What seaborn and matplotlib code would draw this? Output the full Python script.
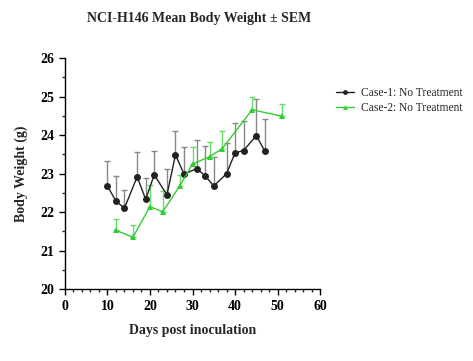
import numpy as np
import pandas as pd
import matplotlib
matplotlib.use('Agg')
import matplotlib.pyplot as plt
import seaborn as sns

# dados
dias_c1 = [10, 12, 14, 17, 19, 21, 24, 26, 28, 31, 33, 35, 38, 40, 42, 45, 47]
peso_c1 = [22.68, 22.29, 22.10, 22.92, 22.33, 22.97, 22.45, 23.49, 22.99, 23.13,
           22.94, 22.68, 23.00, 23.54, 23.60, 23.99, 23.58]
sem_c1 = [0.64, 0.65, 0.47, 0.63, 0.55, 0.62, 0.66, 0.62, 0.69, 0.74,
          0.79, 0.74, 0.79, 0.78, 0.78, 0.95, 0.84]

dias_c2 = [12, 16, 20, 23, 27, 30, 34, 37, 44, 51]
peso_c2 = [21.53, 21.35, 22.14, 22.01, 22.68, 23.25, 23.44, 23.65, 24.66, 24.49]
sem_c2 = [0.29, 0.31, 0.57, 0.54, 0.29, 0.45, 0.38, 0.45, 0.34, 0.31]

nomes = ['Case-1: No Treatment', 'Case-2: No Treatment']
cores = ['#222222', '#33cc33']

df = pd.concat([
    pd.DataFrame({'dia': dias_c1, 'peso': peso_c1, 'grupo': nomes[0]}),
    pd.DataFrame({'dia': dias_c2, 'peso': peso_c2, 'grupo': nomes[1]}),
])

sns.set_style('ticks')
plt.rcParams['font.family'] = ['Liberation Serif', 'DejaVu Serif']

fig = plt.figure(figsize=(4.73, 3.61), dpi=100)
ax = fig.add_axes([0.137, 0.199, 0.54, 0.64])

# barras de erro so para cima
ax.errorbar(dias_c1, peso_c1, yerr=[np.zeros(len(sem_c1)), sem_c1], fmt='none',
            ecolor='#888888', elinewidth=1.0, capsize=2, capthick=1, zorder=1)
ax.errorbar(dias_c2, peso_c2, yerr=[np.zeros(len(sem_c2)), sem_c2], fmt='none',
            ecolor='#66dd66', elinewidth=1.0, capsize=2, capthick=1, zorder=1)

sns.lineplot(data=df, x='dia', y='peso', hue='grupo', style='grupo',
             palette=dict(zip(nomes, cores)), markers=['o', '^'], dashes=False,
             markersize=5, markeredgewidth=0, linewidth=1, ax=ax, zorder=2)

ax.set_xlim(0, 60)
ax.set_ylim(20, 26)
ax.set_xticks(range(0, 61, 10))
ax.set_xticks(range(0, 61, 2), minor=True)
ax.set_yticks(range(20, 27))
ax.set_yticks(np.arange(20, 26.01, 0.5), minor=True)
ax.tick_params(axis='both', which='major', length=4, width=1, labelsize=10, colors='black')
ax.tick_params(axis='both', which='minor', length=2, width=1)
for lbl in ax.get_xticklabels() + ax.get_yticklabels():
    lbl.set_fontweight('bold')
for s in ['left', 'bottom']:
    ax.spines[s].set_linewidth(1)
    ax.spines[s].set_color('black')
sns.despine(ax=ax)

ax.set_xlabel('Days post inoculation', fontsize=10, fontweight='bold', labelpad=8)
ax.set_ylabel('Body Weight (g)', fontsize=10, fontweight='bold', labelpad=9)

fig.text(0.42, 0.948, 'NCI-H146 Mean Body Weight ± SEM', ha='center', va='center',
         fontsize=10, fontweight='bold')

leg = ax.legend(title=None, loc='upper left', bbox_to_anchor=(1.02, 0.92), frameon=False,
                fontsize=8.3, handlelength=1.6, handletextpad=0.6, labelspacing=0.3)
for h in leg.legend_handles:
    h.set_markersize(3.5)

fig.savefig('out.png', dpi=100)
